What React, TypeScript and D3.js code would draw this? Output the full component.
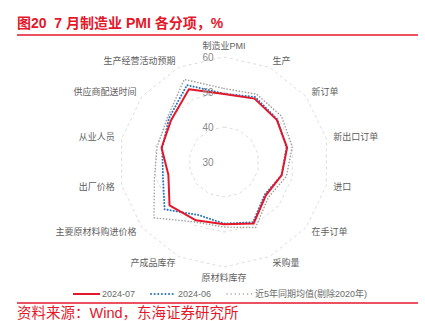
import React from "react";
import * as d3 from "d3";

const categories = [
  "制造业PMI",
  "生产",
  "新订单",
  "新出口订单",
  "进口",
  "在手订单",
  "采购量",
  "原材料库存",
  "产成品库存",
  "主要原材料购进价格",
  "出厂价格",
  "从业人员",
  "供应商配送时间",
  "生产经营活动预期",
];

const jul2024 = [49.4, 50.1, 49.3, 48.5, 46.9, 45.3, 49.5, 47.8, 48.5, 49.9, 46.3, 48.3, 49.3, 53.1];
const jun2024 = [49.5, 50.6, 49.5, 48.3, 46.9, 44.9, 49.1, 47.6, 46.8, 51.7, 47.9, 48.1, 50.1, 54.4];
const avg5y = [51.0, 51.5, 51.0, 50.0, 48.3, 46.2, 50.8, 48.6, 49.0, 55.6, 50.4, 49.6, 50.6, 56.2];

const ringTicks = [30, 40, 50, 60];

const seriesNames = ["2024-07", "2024-06", "近5年同期均值(剔除2020年)"];

const RED = "#e4172b";
const BLUE = "#2e75c0";
const GREY = "#a0a0a0";
const FONT = "'Liberation Sans', 'Noto Sans CJK SC', sans-serif";

const App = () => {
  const width = 425;
  const height = 321;
  const cx = 224;
  const cy = 162;
  const radius = 105;

  const r = d3.scaleLinear().domain([30, 60]).range([0, radius]);
  const angle = d3
    .scaleLinear()
    .domain([0, categories.length])
    .range([0, 2 * Math.PI]);

  const radar = d3
    .lineRadial<number>()
    .angle((d, i) => angle(i))
    .radius((d) => r(d))
    .curve(d3.curveLinearClosed);

  const ring = (v: number) =>
    d3
      .lineRadial<string>()
      .angle((d, i) => angle(i))
      .radius(() => r(v))
      .curve(d3.curveLinearClosed)(categories);

  const labelPos = (i: number) => {
    const a = angle(i);
    const s = Math.sin(a);
    const c = Math.cos(a);
    const rr = Math.abs(s) < 0.01 ? radius + 11 : radius + 7;
    return {
      x: cx + rr * s,
      y: cy - rr * c,
      anchor: Math.abs(s) < 0.01 ? "middle" : s > 0 ? "start" : "end",
    };
  };

  return (
    <svg
      width={width}
      height={height}
      style={{ position: "absolute", left: 0, top: 0, background: "#fff" }}
      fontFamily={FONT}
    >
      {/* title */}
      <text x={17} y={28} fill={RED} fontSize={14} fontWeight="bold" style={{ whiteSpace: "pre" }}>
        {"图20  7 月制造业 PMI 各分项，%"}
      </text>
      <line x1={17} x2={418} y1={35} y2={35} stroke={RED} strokeWidth={1.5} />

      <g transform={`translate(${cx},${cy})`}>
        {ringTicks
          .filter((t) => t > 30)
          .map((t) => (
            <path
              key={t}
              d={ring(t) || ""}
              fill="none"
              stroke="#d4d4d4"
              strokeWidth={0.8}
              strokeDasharray="3 3"
            />
          ))}
        <path
          d={radar(avg5y) || ""}
          fill="none"
          stroke={GREY}
          strokeWidth={1.6}
          strokeDasharray="0.1 3"
          strokeLinecap="round"
        />
        <path
          d={radar(jun2024) || ""}
          fill="none"
          stroke={BLUE}
          strokeWidth={2}
          strokeDasharray="0.1 3"
          strokeLinecap="round"
        />
        <path
          d={radar(jul2024) || ""}
          fill="none"
          stroke={RED}
          strokeWidth={2}
          strokeLinejoin="round"
        />
        {ringTicks.map((t) => (
          <text
            key={t}
            x={-16}
            y={-r(t)}
            dy="0.35em"
            textAnchor="middle"
            fontSize={10}
            fill="#8a8a8a"
          >
            {t}
          </text>
        ))}
      </g>

      {categories.map((c, i) => {
        const p = labelPos(i);
        return (
          <text
            key={c}
            x={p.x}
            y={p.y}
            dy="0.35em"
            textAnchor={p.anchor}
            fontSize={9}
            fill="#5e5e5e"
          >
            {c}
          </text>
        );
      })}

      {/* legend */}
      <g fontSize={9} fill="#6a6a6a">
        <line x1={73} x2={100} y1={294} y2={294} stroke={RED} strokeWidth={2} />
        <text x={102} y={294} dy="0.35em">{seriesNames[0]}</text>
        <line
          x1={151}
          x2={175}
          y1={294}
          y2={294}
          stroke={BLUE}
          strokeWidth={2}
          strokeDasharray="0.1 3.5"
          strokeLinecap="round"
        />
        <text x={178} y={294} dy="0.35em">{seriesNames[1]}</text>
        <line
          x1={227}
          x2={252}
          y1={294}
          y2={294}
          stroke={GREY}
          strokeWidth={1.4}
          strokeDasharray="0.1 4"
          strokeLinecap="round"
        />
        <text x={255} y={294} dy="0.35em">{seriesNames[2]}</text>
      </g>

      <line x1={17} x2={418} y1={303} y2={303} stroke={RED} strokeWidth={1.5} />
      <text x={17} y={318} fill={RED} fontSize={14.5}>
        资料来源：Wind，东海证券研究所
      </text>
    </svg>
  );
};

export default App;
